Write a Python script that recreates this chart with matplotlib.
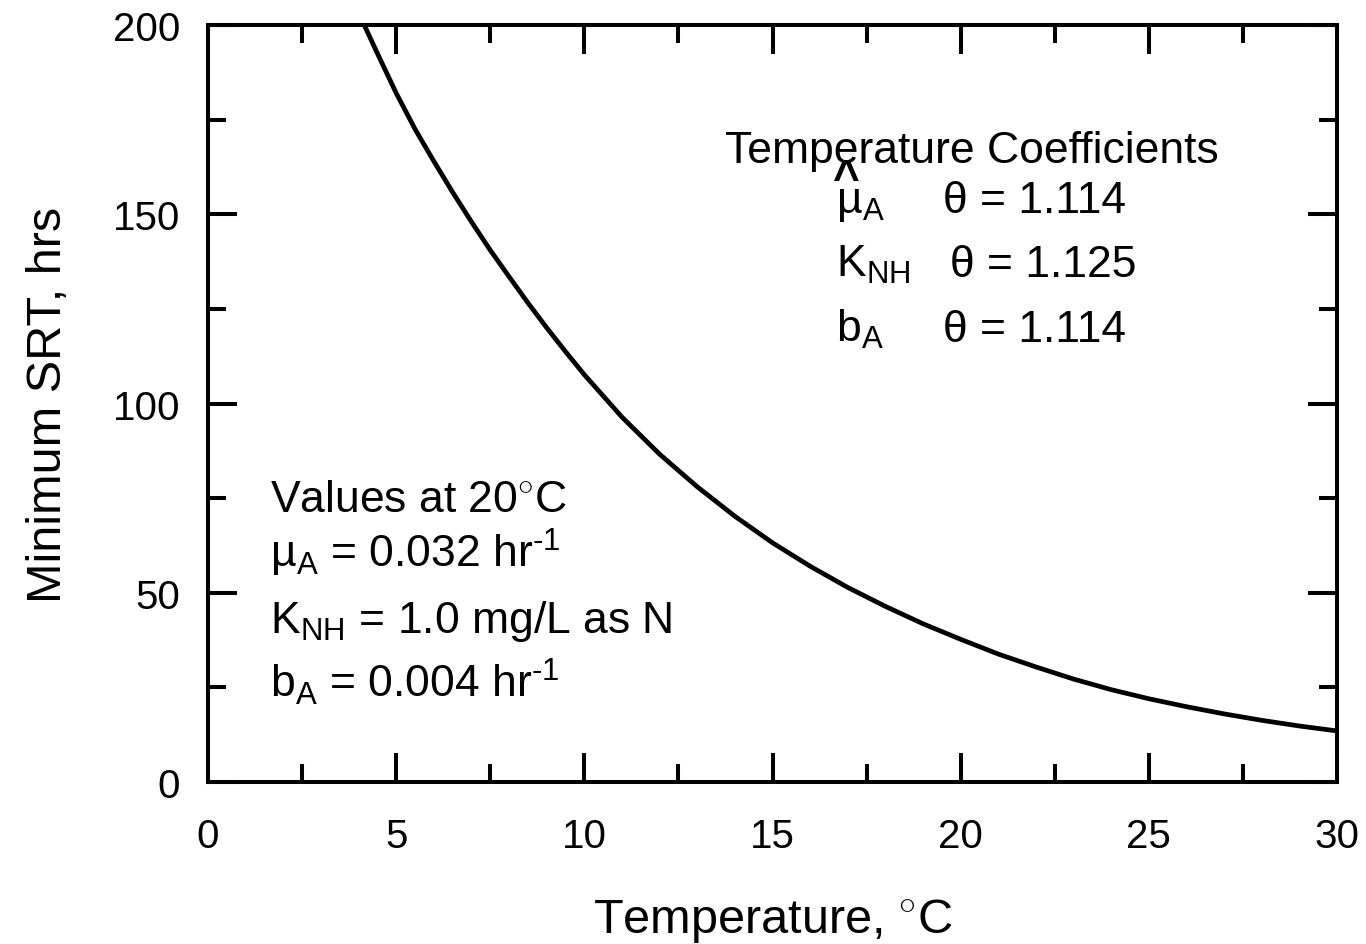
import matplotlib
matplotlib.use("Agg")
import matplotlib.pyplot as plt
from matplotlib.ticker import MultipleLocator

plt.rcParams['font.family'] = ['Liberation Sans', 'DejaVu Sans']
plt.rcParams['mathtext.fontset'] = 'custom'
plt.rcParams['mathtext.rm'] = 'Liberation Sans'
plt.rcParams['mathtext.it'] = 'Liberation Sans:italic'

# Minimum SRT vs temperature
temperature = [4.15, 4.5, 5, 5.5, 6, 6.5, 7, 7.5, 8, 8.5, 9, 9.5, 10, 11, 12,
               13, 14, 15, 16, 17, 18, 19, 20, 21, 22, 23, 24, 25, 26, 27,
               28, 29, 30]
min_srt = [200, 192.5, 182, 172.5, 164, 155.8, 148, 140.5, 133.5, 126.6, 120,
           113.7, 107.6, 96.4, 86.6, 78, 70.2, 63.2, 57, 51.4, 46.4, 41.8,
           37.7, 33.8, 30.4, 27.2, 24.4, 22, 19.9, 18, 16.3, 14.8, 13.5]

x_ticks = [0, 5, 10, 15, 20, 25, 30]
y_ticks = [0, 50, 100, 150, 200]

coef_names = ['µ$_{\\mathrm{A}}$', 'K$_{\\mathrm{NH}}$', 'b$_{\\mathrm{A}}$']
coef_theta = ['θ = 1.114', 'θ = 1.125', 'θ = 1.114']

values_20 = ['Values at 20$^{\\circ}$C',
             'µ$_{\\mathrm{A}}$ = 0.032 hr$^{\\text{-1}}$',
             'K$_{\\mathrm{NH}}$ = 1.0 mg/L as N',
             'b$_{\\mathrm{A}}$ = 0.004 hr$^{\\text{-1}}$']

fig = plt.figure(figsize=(13.66, 9.45), dpi=100)
ax = fig.add_axes([0.1523, 0.1714, 0.8265, 0.8011])

ax.plot(temperature, min_srt, color='black', lw=3.4, solid_joinstyle='round')

ax.set_xlim(0, 30)
ax.set_ylim(0, 200)
ax.set_xticks(x_ticks)
ax.set_yticks(y_ticks)
ax.xaxis.set_minor_locator(MultipleLocator(2.5))
ax.yaxis.set_minor_locator(MultipleLocator(25))
ax.tick_params(which='both', direction='in', top=True, right=True,
               width=2.9, labelsize=29, colors='black')
ax.tick_params(which='major', length=21)
ax.tick_params(which='minor', length=13)
ax.tick_params(axis='x', pad=25)
ax.tick_params(axis='y', pad=20)
for sp in ax.spines.values():
    sp.set_linewidth(2.9)

ax.set_xlabel('Temperature, $^{\\circ}$C', fontsize=35, labelpad=30)
ax.set_ylabel('Minimum SRT, hrs', fontsize=35, labelpad=30)

fs = 32
ax.text(13.74, 163.8, 'Temperature Coefficients', fontsize=fs, va='baseline')
coef_y = [150.6, 133.7, 116.5]
theta_x = [19.53, 19.72, 19.53]
for name, th, yy, tx in zip(coef_names, coef_theta, coef_y, theta_x):
    ax.text(16.69, yy, name, fontsize=fs, va='baseline')
    ax.text(tx, yy, th, fontsize=fs, va='baseline')
# hat over mu
ax.text(16.97, 159.0, '^', fontsize=33, fontweight='bold', ha='center',
        va='center')

val_y = [71.6, 56.8, 39.6, 22.5]
for s, yy in zip(values_20, val_y):
    ax.text(1.65, yy, s, fontsize=fs, va='baseline')

fig.savefig('out.png', dpi=100)
